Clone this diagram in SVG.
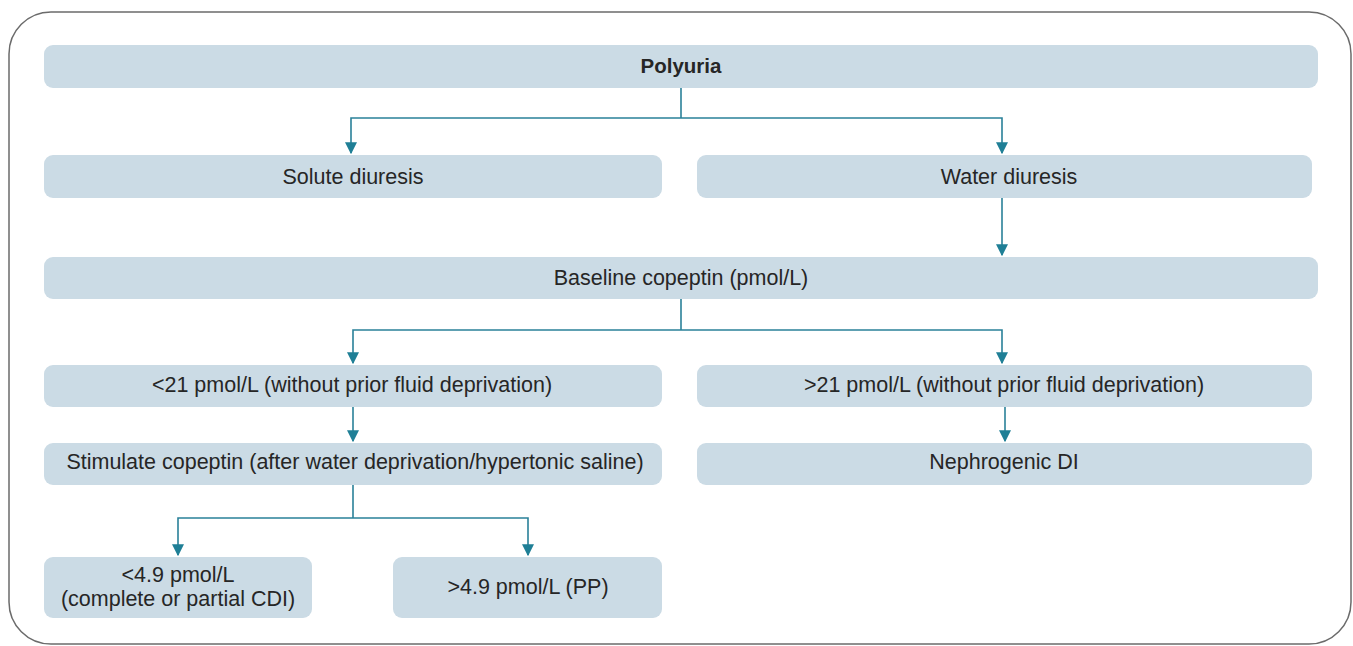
<svg xmlns="http://www.w3.org/2000/svg" width="1353" height="646" viewBox="0 0 1353 646">
  <style>
    .box { fill: #cbdbe5; }
    .lbl { font-family: "Liberation Sans", Arial, sans-serif; font-size: 21.5px; fill: #262626; text-anchor: middle; }
    .bold { font-weight: bold; font-size: 20.5px; }
    .conn { fill: none; stroke: #2a8199; stroke-width: 1.6; }
  </style>
  <defs>
    <marker id="arrow" viewBox="0 0 10 10" refX="9" refY="5" markerWidth="12" markerHeight="12" markerUnits="userSpaceOnUse" orient="auto">
      <path d="M0,0 L10,5 L0,10 Z" fill="#1f7f96"/>
    </marker>
  </defs>

  <rect width="1353" height="646" fill="#ffffff"/>
  <!-- outer frame -->
  <rect x="9" y="12" width="1342" height="632" rx="42" ry="42" fill="#ffffff" stroke="#6b6b6b" stroke-width="1.5"/>

  <g id="polyuria">
    <rect class="box" x="44" y="45" width="1274" height="43" rx="9"/>
    <text class="lbl bold" x="681" y="73">Polyuria</text>
  </g>
  <g id="solute">
    <rect class="box" x="44" y="155" width="618" height="43" rx="9"/>
    <text class="lbl" x="353" y="184">Solute diuresis</text>
  </g>
  <g id="water">
    <rect class="box" x="697" y="155" width="615" height="43" rx="9"/>
    <text class="lbl" x="1009" y="184">Water diuresis</text>
  </g>
  <g id="baseline">
    <rect class="box" x="44" y="257" width="1274" height="42" rx="9"/>
    <text class="lbl" x="681" y="285">Baseline copeptin (pmol/L)</text>
  </g>
  <g id="low21">
    <rect class="box" x="44" y="365" width="618" height="42" rx="9"/>
    <text class="lbl" x="352" y="392">&lt;21 pmol/L (without prior fluid deprivation)</text>
  </g>
  <g id="high21">
    <rect class="box" x="697" y="365" width="615" height="42" rx="9"/>
    <text class="lbl" x="1004" y="392">&gt;21 pmol/L (without prior fluid deprivation)</text>
  </g>
  <g id="stimulate">
    <rect class="box" x="44" y="443" width="618" height="42" rx="9"/>
    <text class="lbl" x="355" y="469">Stimulate copeptin (after water deprivation/hypertonic saline)</text>
  </g>
  <g id="nephrogenic">
    <rect class="box" x="697" y="443" width="615" height="42" rx="9"/>
    <text class="lbl" x="1004" y="469">Nephrogenic DI</text>
  </g>
  <g id="low49">
    <rect class="box" x="44" y="557" width="268" height="61" rx="9"/>
    <text class="lbl" x="178" y="582">&lt;4.9 pmol/L</text>
    <text class="lbl" x="178" y="606">(complete or partial CDI)</text>
  </g>
  <g id="high49">
    <rect class="box" x="393" y="557" width="269" height="61" rx="9"/>
    <text class="lbl" x="528" y="594">&gt;4.9 pmol/L (PP)</text>
  </g>

  <g id="connectors">
    <path class="conn" d="M681,88 V118"/>
    <path class="conn" d="M681,118 H351 V153" marker-end="url(#arrow)"/>
    <path class="conn" d="M681,118 H1002 V153" marker-end="url(#arrow)"/>
    <path class="conn" d="M1002,198 V255" marker-end="url(#arrow)"/>
    <path class="conn" d="M681,299 V330"/>
    <path class="conn" d="M681,330 H353 V363" marker-end="url(#arrow)"/>
    <path class="conn" d="M681,330 H1002 V363" marker-end="url(#arrow)"/>
    <path class="conn" d="M353,407 V441" marker-end="url(#arrow)"/>
    <path class="conn" d="M1005,407 V441" marker-end="url(#arrow)"/>
    <path class="conn" d="M353,485 V518"/>
    <path class="conn" d="M353,518 H178 V555" marker-end="url(#arrow)"/>
    <path class="conn" d="M353,518 H528 V555" marker-end="url(#arrow)"/>
  </g>
</svg>
